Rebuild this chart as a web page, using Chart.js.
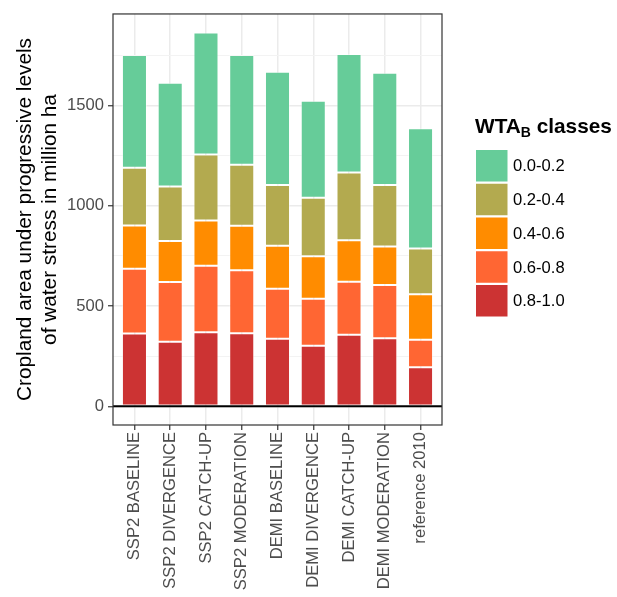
<!DOCTYPE html>
<html>
<head>
<meta charset="utf-8">
<script src="https://cdn.jsdelivr.net/npm/chart.js@4/dist/chart.umd.min.js"></script>
<style>
  html, body { margin: 0; padding: 0; background: #ffffff; }
  canvas { display: block; }
</style>
</head>
<body>
<canvas id="chart" width="617" height="597"></canvas>
<script>
// Scenarios along the x axis
const categories = [
  'SSP2 BASELINE', 'SSP2 DIVERGENCE', 'SSP2 CATCH-UP', 'SSP2 MODERATION',
  'DEMI BASELINE', 'DEMI DIVERGENCE', 'DEMI CATCH-UP', 'DEMI MODERATION',
  'reference 2010'
];

// Cropland area (million ha) per water-stress class, stacked bottom to top
const class08to10 = [363, 322, 370, 365, 337, 302, 357, 339, 195];
const class06to08 = [323, 298, 331, 314, 250, 235, 264, 266, 137];
const class04to06 = [216, 205, 226, 222, 214, 212, 207, 193, 227];
const class02to04 = [288, 272, 329, 304, 303, 292, 339, 306, 229];
const class00to02 = [563, 518, 610, 548, 565, 484, 591, 560, 600];

const classLabels = ['0.8-1.0', '0.6-0.8', '0.4-0.6', '0.2-0.4', '0.0-0.2'];
const classColors = ['#cc3333', '#ff6633', '#ff8c00', '#b3aa4f', '#66cc99'];
const classValues = [class08to10, class06to08, class04to06, class02to04, class00to02];

const yMajorTicks = [0, 500, 1000, 1500];
const yMinorTicks = [250, 750, 1250, 1750];

const FONT = '"Liberation Sans", Arial, Helvetica, sans-serif';

const datasets = classValues.map((vals, k) => ({
  label: classLabels[k],
  data: vals.map((v, i) => ({ x: i, y: v })),
  backgroundColor: classColors[k],
  borderColor: 'rgba(255,255,255,0.45)',
  borderWidth: 1,
  borderSkipped: false,
  barPercentage: 0.7,
  categoryPercentage: 1.0
}));

// Panel border and the zero reference line
const panelPlugin = {
  id: 'panel',
  afterDatasetsDraw(chart) {
    const { ctx, chartArea: a, scales } = chart;
    ctx.save();
    const y0 = scales.y.getPixelForValue(0);
    ctx.strokeStyle = '#000000';
    ctx.lineWidth = 2;
    ctx.beginPath();
    ctx.moveTo(a.left, y0);
    ctx.lineTo(a.right, y0);
    ctx.stroke();
    ctx.strokeStyle = '#333333';
    ctx.lineWidth = 1.2;
    ctx.strokeRect(a.left, a.top, a.right - a.left, a.bottom - a.top);
    ctx.restore();
  }
};

// Legend on the right, top class first, with subscripted title
const legendPlugin = {
  id: 'classLegend',
  afterDraw(chart) {
    const { ctx } = chart;
    ctx.save();
    ctx.fillStyle = '#000000';
    ctx.textBaseline = 'alphabetic';
    ctx.textAlign = 'left';
    let x = 475;
    const base = 133;
    ctx.font = 'bold 20.8px ' + FONT;
    ctx.fillText('WTA', x, base);
    x += ctx.measureText('WTA').width;
    ctx.font = 'bold 14px ' + FONT;
    ctx.fillText('B', x, base + 4);
    x += ctx.measureText('B').width;
    ctx.font = 'bold 20.8px ' + FONT;
    ctx.fillText(' classes', x, base);

    const items = chart.data.datasets.map((d) => ({ label: d.label, color: d.backgroundColor })).reverse();
    const keyX = 476, keyTop = 150, step = 33.75, keySize = 31.5;
    ctx.font = '16.6px ' + FONT;
    ctx.textBaseline = 'middle';
    items.forEach((it, i) => {
      const ky = keyTop + i * step;
      ctx.fillStyle = it.color;
      ctx.fillRect(keyX, ky, keySize, keySize);
      ctx.fillStyle = '#000000';
      ctx.fillText(it.label, 513, ky + keySize / 2 + 1);
    });
    ctx.restore();
  }
};

new Chart(document.getElementById('chart'), {
  type: 'bar',
  data: { datasets },
  plugins: [panelPlugin, legendPlugin],
  options: {
    responsive: false,
    devicePixelRatio: 1,
    animation: false,
    layout: { padding: { left: 0, top: 11, right: 175, bottom: 0 } },
    plugins: { legend: { display: false }, tooltip: { enabled: false } },
    scales: {
      x: {
        type: 'linear',
        stacked: true,
        offset: false,
        min: -0.6,
        max: 8.6,
        afterBuildTicks(scale) {
          scale.ticks = categories.map((_, i) => ({ value: i }));
        },
        afterFit(scale) { scale.height = 172; },
        border: { display: false },
        grid: {
          offset: false,
          color: '#ebebeb',
          lineWidth: 1.5,
          drawTicks: true,
          tickLength: 5,
          tickColor: '#333333',
          tickWidth: 1.2
        },
        ticks: {
          autoSkip: false,
          maxRotation: 90,
          minRotation: 90,
          padding: 2,
          color: '#4d4d4d',
          font: { family: FONT, size: 16.6 },
          callback: (v) => categories[v]
        }
      },
      y: {
        stacked: true,
        min: -93.5,
        max: 1958,
        afterBuildTicks(scale) {
          scale.ticks = yMajorTicks.concat(yMinorTicks).sort((a, b) => a - b).map((v) => ({ value: v }));
        },
        afterFit(scale) { scale.width = 113; },
        border: { display: false },
        grid: {
          color: (c) => (yMajorTicks.includes(c.tick.value) ? '#ebebeb' : '#f3f3f3'),
          lineWidth: (c) => (yMajorTicks.includes(c.tick.value) ? 1.5 : 1),
          drawTicks: true,
          tickLength: 5,
          tickColor: (c) => (yMajorTicks.includes(c.tick.value) ? '#333333' : 'rgba(0,0,0,0)'),
          tickWidth: 1.2
        },
        ticks: {
          padding: 4,
          color: '#4d4d4d',
          font: { family: FONT, size: 16.6 },
          callback: (v) => (yMajorTicks.includes(v) ? String(v) : '')
        },
        title: {
          display: true,
          text: ['Cropland area under progressive levels', 'of water stress in million ha'],
          color: '#000000',
          font: { family: FONT, size: 20.8, lineHeight: 1.2 },
          padding: { top: 12.5, bottom: 0 }
        }
      }
    }
  }
});
</script>
</body>
</html>
